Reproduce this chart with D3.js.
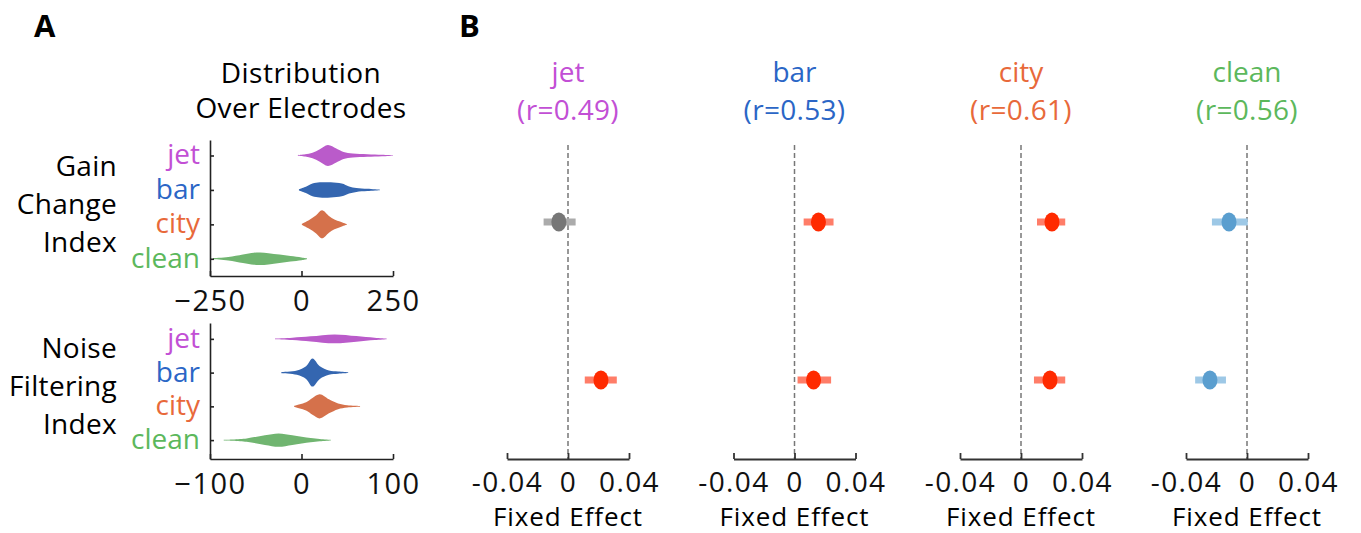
<!DOCTYPE html>
<html>
<head>
<meta charset="utf-8">
<script src="https://cdn.jsdelivr.net/npm/d3@7"></script>
<style>
    body { margin: 0; background: #fff; }
    svg { font-family: "Open Sans", sans-serif; }
</style>
</head>
<body>
<svg id="root" width="1361" height="533"></svg>
<script>
const conditions = ["jet", "bar", "city", "clean"];
const rValues = [0.49, 0.53, 0.61, 0.56];

// violin outlines: [index value, relative density]
const gainJet = [[-10, 0.02], [10, 0.08], [30, 0.2], [50, 0.45], [72, 0.75], [95, 0.5], [115, 0.25], [140, 0.14], [180, 0.09], [220, 0.05], [250, 0.01]];
const gainBar = [[-7, 0.04], [10, 0.2], [30, 0.45], [50, 0.54], [80, 0.54], [110, 0.45], [130, 0.25], [150, 0.14], [180, 0.08], [214, 0.02]];
const gainCity = [[1, 0.05], [20, 0.3], [40, 0.65], [56, 1], [75, 0.6], [90, 0.35], [105, 0.2], [115, 0.1], [124, 0.03]];
const gainClean = [[-242, 0.04], [-200, 0.12], [-160, 0.3], [-130, 0.43], [-113, 0.45], [-90, 0.4], [-60, 0.3], [-30, 0.2], [0, 0.1], [15, 0.03]];

const noiseJet = [[-29, 0.02], [-10, 0.08], [10, 0.18], [36, 0.32], [60, 0.2], [80, 0.08], [93, 0.02]];
const noiseBar = [[-22, 0.04], [-5, 0.15], [5, 0.45], [12, 1.0], [20, 0.45], [30, 0.15], [40, 0.08], [51, 0.03]];
const noiseCity = [[-8, 0.05], [5, 0.3], [12, 0.6], [20, 0.86], [30, 0.5], [40, 0.2], [50, 0.08], [64, 0.03]];
const noiseClean = [[-85, 0.02], [-60, 0.12], [-40, 0.35], [-25, 0.48], [-10, 0.35], [10, 0.15], [20, 0.08], [32, 0.02]];

// fixed effects (panel B), one per condition
const gainEffect = [-0.006, 0.0157, 0.0203, -0.0118];
const gainLow = [-0.016, 0.006, 0.0105, -0.023];
const gainHigh = [0.005, 0.0256, 0.029, 0.0005];
const gainSig = [false, true, true, true];

const noiseEffect = [0.0216, 0.0125, 0.019, -0.0243];
const noiseLow = [0.011, 0.002, 0.0085, -0.034];
const noiseHigh = [0.032, 0.024, 0.029, -0.0138];
const noiseSig = [true, true, true, true];

const gainTicks = [-250, 0, 250];
const noiseTicks = [-100, 0, 100];
const effectTicks = [-0.04, 0, 0.04];

const labelColor = { jet: "#c24fd5", bar: "#2b66c6", city: "#e8693a", clean: "#5cb85c" };
const violinColor = { jet: "#ba5bca", bar: "#3466b0", city: "#d5714b", clean: "#70b570" };

const svg = d3.select("#root");
svg.append("rect").attr("width", 1361).attr("height", 533).attr("fill", "#fff");

// panel letters
svg.append("text").attr("x", 34).attr("y", 37).text("A")
    .style("font-size", "31px").style("font-weight", "bold");
svg.append("text").attr("x", 459).attr("y", 37).text("B")
    .style("font-size", "31px").style("font-weight", "bold");

svg.append("text").attr("x", 301).attr("y", 83).attr("text-anchor", "middle")
    .style("font-size", "28px").style("letter-spacing", "0.5px").text("Distribution");
svg.append("text").attr("x", 301).attr("y", 118).attr("text-anchor", "middle")
    .style("font-size", "28px").style("letter-spacing", "0.3px").text("Over Electrodes");

const densityScale = d3.scaleLinear().domain([0, 1]).range([0, 14]);

const violinPanel = (opts) => {
    const x = d3.scaleLinear().domain(opts.domain).range([210, 393]);
    const y = d3.scaleLinear().domain(opts.yDomain).range([opts.top, opts.bottom]);

    const g = svg.append("g");

    opts.violins.forEach((v, i) => {
        const area = d3.area()
            .x((d) => x(d[0]))
            .y0((d) => y(i) - densityScale(d[1]))
            .y1((d) => y(i) + densityScale(d[1]))
            .curve(d3.curveCatmullRom);
        g.append("path").attr("d", area(v))
            .attr("fill", violinColor[conditions[i]]);
    });

    const xAxis = d3.axisBottom(x).tickValues(opts.ticks).tickSize(-5)
        .tickSizeOuter(0).tickPadding(8);
    g.append("g").attr("transform", `translate(0, ${opts.bottom})`)
        .call(xAxis)
        .call((a) => a.selectAll("text").style("font-size", "29px")
            .style("font-family", "Open Sans").style("letter-spacing", "1.5px")
            .attr("fill", "#111").attr("dy", "0.92em"))
        .call((a) => a.selectAll("line, path").attr("stroke", "#222").attr("stroke-width", 1.6));

    const yAxis = d3.axisLeft(y).tickValues([0, 1, 2, 3]).tickSize(-4)
        .tickSizeOuter(0).tickPadding(10).tickFormat((i) => conditions[i]);
    g.append("g").attr("transform", "translate(210, 0)")
        .call(yAxis)
        .call((a) => a.selectAll("text").style("font-size", "28px")
            .style("font-family", "Open Sans")
            .attr("fill", (i) => labelColor[conditions[i]]).attr("dy", "0.3em"))
        .call((a) => a.selectAll("line, path").attr("stroke", "#222").attr("stroke-width", 1.6));

    opts.rowLabel.forEach((line, k) => {
        svg.append("text").attr("x", 117).attr("y", opts.labelY + k * 38)
            .attr("text-anchor", "end").style("font-size", "28px")
            .style("letter-spacing", "0.3px").text(line);
    });
};

violinPanel({
    domain: [-250, 250], ticks: gainTicks, top: 140, bottom: 276,
    yDomain: [-0.45, 3.5],
    violins: [gainJet, gainBar, gainCity, gainClean],
    rowLabel: ["Gain", "Change", "Index"], labelY: 176,
});
violinPanel({
    domain: [-100, 100], ticks: noiseTicks, top: 323, bottom: 459,
    yDomain: [-0.47, 3.56],
    violins: [noiseJet, noiseBar, noiseCity, noiseClean],
    rowLabel: ["Noise", "Filtering", "Index"], labelY: 358,
});

// panel B
const rowY = d3.scalePoint().domain(["gain", "noise"]).range([222, 380]);
const zeros = [568, 794.5, 1021, 1247];

const effectColor = (est, sig) => {
    if (!sig) return ["#777777", "#ababab"];
    return est > 0 ? ["#ff2a00", "#ff7d68"] : ["#5a9ecf", "#9dc8e6"];
};

conditions.forEach((c, i) => {
    const x = d3.scaleLinear().domain([-0.04, 0.04]).range([zeros[i] - 61, zeros[i] + 61]);
    const g = svg.append("g");

    g.append("text").attr("x", x(0)).attr("y", 82).attr("text-anchor", "middle")
        .attr("fill", labelColor[c]).style("font-size", "28px").text(c);
    g.append("text").attr("x", x(0)).attr("y", 120).attr("text-anchor", "middle")
        .attr("fill", labelColor[c]).style("font-size", "28px").style("letter-spacing", "0.3px")
        .text(`(r=${rValues[i].toFixed(2)})`);

    g.append("line").attr("x1", x(0)).attr("x2", x(0)).attr("y1", 145).attr("y2", 459)
        .attr("stroke", "#777").attr("stroke-width", 1.5).attr("stroke-dasharray", "5,3");

    const rows = [
        { row: "gain", est: gainEffect[i], lo: gainLow[i], hi: gainHigh[i], sig: gainSig[i] },
        { row: "noise", est: noiseEffect[i], lo: noiseLow[i], hi: noiseHigh[i], sig: noiseSig[i] },
    ];
    rows.forEach((d) => {
        const [dot, bar] = effectColor(d.est, d.sig);
        g.append("line").attr("x1", x(d.lo)).attr("x2", x(d.hi))
            .attr("y1", rowY(d.row)).attr("y2", rowY(d.row))
            .attr("stroke", bar).attr("stroke-width", 7);
        g.append("ellipse").attr("cx", x(d.est)).attr("cy", rowY(d.row))
            .attr("rx", 7.5).attr("ry", 9.5).attr("fill", dot);
    });

    const axis = d3.axisBottom(x).tickValues(effectTicks).tickSize(-6).tickSizeOuter(0)
        .tickPadding(7)
        .tickFormat((d) => (d === 0 ? "0" : (d < 0 ? "-" : "") + Math.abs(d).toFixed(2)));
    g.append("g").attr("transform", "translate(0, 459)")
        .call(axis)
        .call((a) => a.selectAll("text").style("font-size", "28px")
            .style("font-family", "Open Sans").style("letter-spacing", "1.4px")
            .attr("fill", "#111").attr("dy", "0.92em"))
        .call((a) => a.selectAll("line, path").attr("stroke", "#333").attr("stroke-width", 1.8));

    g.append("text").attr("x", x(0)).attr("y", 526).attr("text-anchor", "middle")
        .style("font-size", "26px").style("letter-spacing", "0.9px").text("Fixed Effect");
});
</script>
</body>
</html>
